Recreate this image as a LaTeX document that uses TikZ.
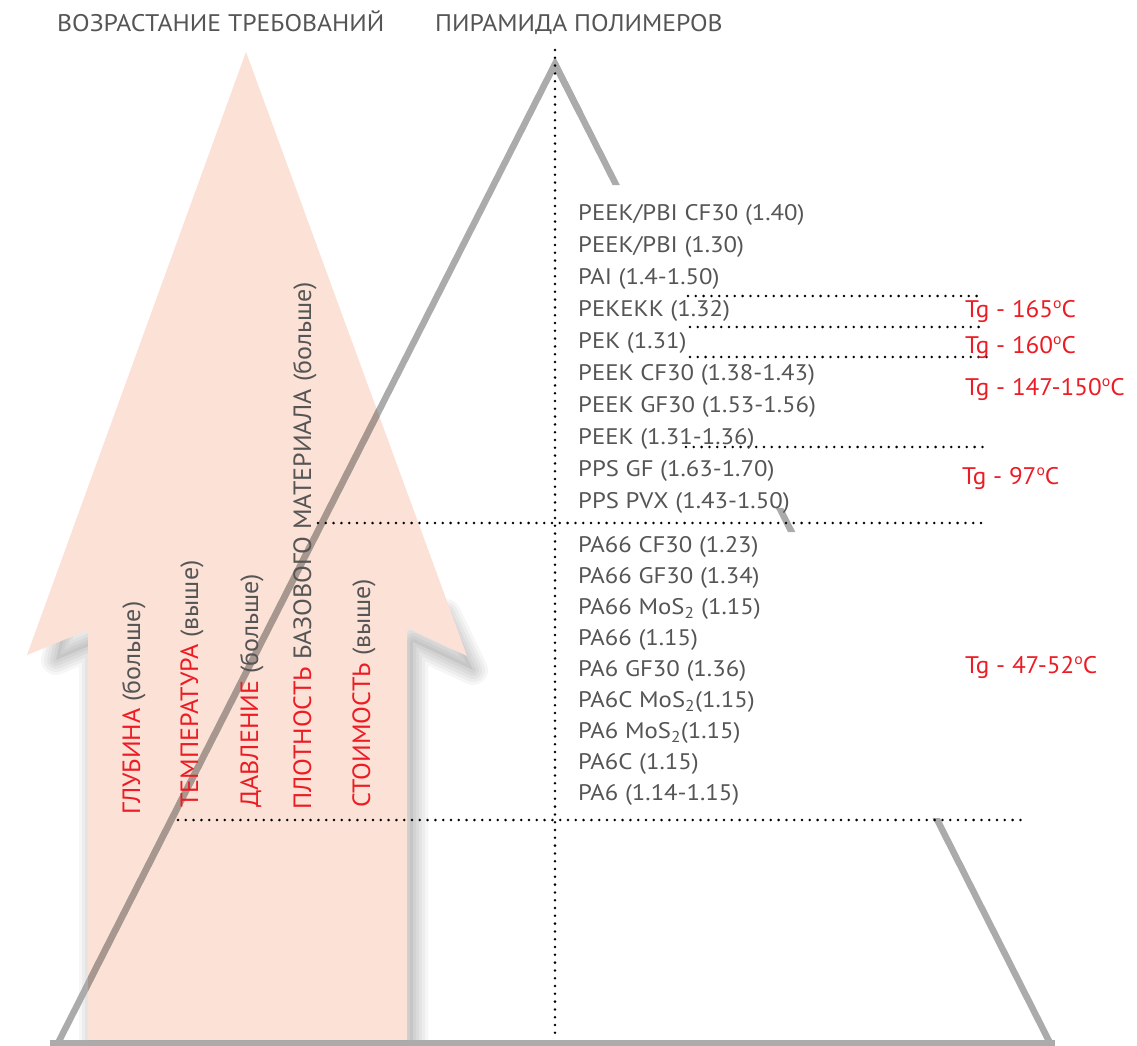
\documentclass[tikz,border=0pt]{standalone}
\usepackage{fontspec}
\setmainfont{PT Sans}
\newfontfamily\listfont[FakeStretch=1.1]{PT Sans}
\newfontfamily\titlefont[FakeStretch=1.07]{PT Sans}
\newfontfamily\tgfont[FakeStretch=1.05]{PT Sans}
\newfontfamily\vertfont[FakeStretch=1.04]{PT Sans}
\usetikzlibrary{calc}
\definecolor{txtgray}{HTML}{555555}
\definecolor{tgred}{HTML}{ED1C24}
\definecolor{peach}{HTML}{FBE1D6}
\definecolor{pyr}{HTML}{ABABAB}
\definecolor{pyrdark}{HTML}{A8978F}
\newcommand{\ArrowPoly}{(246,52) -- (467,656) -- (407,628) -- (407,1040) -- (88,1040) -- (88,630) -- (27,655) -- cycle}
\newcommand{\ShadowPoly}{(50,646) -- (60,600) -- (440,600) -- (467,656) -- (407,628) -- (407,1040) -- (88,1040) -- (88,630) -- cycle}
\newcommand{\dg}{\raisebox{8.5pt}{\fontsize{15}{15}\selectfont o}}
\begin{document}
\begin{tikzpicture}[x=1pt,y=-1pt,
  list/.style={anchor=base west, inner sep=0pt, text=txtgray, font=\listfont\fontsize{22.5}{26}\selectfont},
  tg/.style={anchor=base west, inner sep=0pt, text=tgred, font=\tgfont\fontsize{24}{28}\selectfont},
  vert/.style={anchor=base west, rotate=90, inner sep=0pt, text=txtgray, font=\vertfont\fontsize{25}{30}\selectfont},
  title/.style={anchor=base west, inner sep=0pt, text=txtgray, font=\titlefont\fontsize{24}{28}\selectfont},
  dots/.style={line width=2.8pt, line cap=round, dash pattern=on 0pt off 7.8pt},
  pyrline/.style={line width=6.5pt, draw=pyr, line join=miter, line cap=butt},
]
\useasboundingbox[fill=white] (0,0) rectangle (1137,1046);

% shadow of the arrow
\begin{scope}
  \clip (0,0) rectangle (1137,1040);
  \foreach \w in {30,24,18,12,6} {
    \draw[line width=\w pt, black, opacity=0.037, line join=round, shift={(6,14)}] \ShadowPoly;
  }
  \fill[black, opacity=0.06, shift={(6,14)}] \ShadowPoly;
\end{scope}

% arrow
\fill[peach] \ArrowPoly;

% pyramid
\coordinate (apex) at (555,64);
\coordinate (bl) at (58,1043);
\coordinate (br) at (1050,1043);
\coordinate (bll) at (50,1043);
\coordinate (brr) at (1055,1043);
\draw[pyrline] (bl) -- (apex) -- ($(apex)!0.05!(br)$);
\draw[pyrline] (bll) -- (brr);
\begin{scope}
  \clip (0,0) rectangle (1137,185) (0,508) rectangle (1137,532) (0,818) rectangle (1137,1046);
  \draw[pyrline] (apex) -- (br);
\end{scope}
\begin{scope}
  \clip \ArrowPoly;
  \draw[pyrline, draw=pyrdark] (bl) -- (apex);
  \draw[pyrline, draw=pyrdark] (bll) -- (brr);
\end{scope}

% dotted lines
\draw[dots] (555,50) -- (555,1040);
\draw[dots] (688,296) -- (984,296);
\draw[dots] (690,327) -- (986,327);
\draw[dots] (690,357) -- (987,357);
\draw[dots] (686,447) -- (984,447);
\draw[dots] (318,523) -- (984,523);
\draw[dots] (178,820) -- (1025,820);

% titles
\node[title] (t1) at (57,32) {ВОЗРАСТАНИЕ ТРЕБОВАНИЙ};
\node[title] (t2) at (435,32) {ПИРАМИДА ПОЛИМЕРОВ};

% polymer list
\node[list] (p1) at (578,220) {PEEK/PBI CF30 (1.40)};
\node[list] (p2) at (578,252) {PEEK/PBI (1.30)};
\node[list] (p3) at (578,284) {PAI (1.4-1.50)};
\node[list] (p4) at (578,316) {PEKEKK (1.32)};
\node[list] (p5) at (578,348) {PEK (1.31)};
\node[list] (p6) at (578,380) {PEEK CF30 (1.38-1.43)};
\node[list] (p7) at (578,412) {PEEK GF30 (1.53-1.56)};
\node[list] (p8) at (578,444) {PEEK (1.31-1.36)};
\node[list] (p9) at (578,476) {PPS GF (1.63-1.70)};
\node[list] (p10) at (578,508) {PPS PVX (1.43-1.50)};
\node[list] (q1) at (578,552) {PA66 CF30 (1.23)};
\node[list] (q2) at (578,583) {PA66 GF30 (1.34)};
\node[list] (q3) at (578,614) {PA66 MoS\textsubscript{2} (1.15)};
\node[list] (q4) at (578,645) {PA66 (1.15)};
\node[list] (q5) at (578,676) {PA6 GF30 (1.36)};
\node[list] (q6) at (578,707) {PA6C MoS\textsubscript{2}(1.15)};
\node[list] (q7) at (578,738) {PA6 MoS\textsubscript{2}(1.15)};
\node[list] (q8) at (578,769) {PA6C (1.15)};
\node[list] (q9) at (578,800) {PA6 (1.14-1.15)};

% Tg labels
\node[tg] (g1) at (965,317) {Tg - 165\dg C};
\node[tg] (g2) at (965,353) {Tg - 160\dg C};
\node[tg] (g3) at (965,395) {Tg - 147-150\dg C};
\node[tg] (g4) at (962,484) {Tg - 97\dg C};
\node[tg] (g5) at (965,673) {Tg - 47-52\dg C};

% vertical texts
\node[vert] (v1) at (140,815) {\textcolor{tgred}{ГЛУБИНА} (больше)};
\node[vert] (v2) at (198,808) {\textcolor{tgred}{ТЕМПЕРАТУРА} (выше)};
\node[vert] (v3) at (258,808) {\textcolor{tgred}{ДАВЛЕНИЕ} (больше)};
\node[vert] (v4) at (311,810) {\textcolor{tgred}{ПЛОТНОСТЬ} БАЗОВОГО МАТЕРИАЛА (больше)};
\node[vert] (v5) at (370,808) {\textcolor{tgred}{СТОИМОСТЬ} (выше)};
\end{tikzpicture}
\end{document}
